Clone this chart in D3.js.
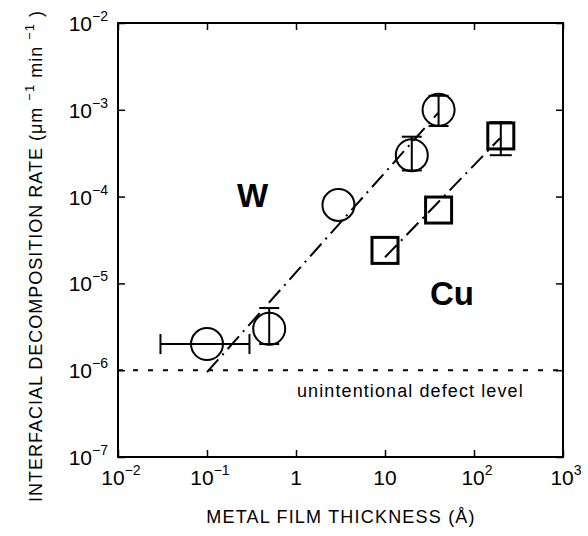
<!DOCTYPE html>
<html>
<head>
<meta charset="utf-8">
<script src="https://cdn.jsdelivr.net/npm/d3@7/dist/d3.min.js"></script>
<style>
  body { margin: 0; background: #fff; }
  text { font-family: "Liberation Sans", Arial, Helvetica, sans-serif; fill: #000; }
</style>
</head>
<body>
<div id="chart"></div>
<script>
// W film data (thickness in Angstrom, rate in um^-1 min^-1)
var wThickness = [0.1, 0.5, 3, 20, 40];
var wRate      = [2e-6, 3e-6, 8e-5, 3e-4, 1e-3];
var wRateLow   = [null, 2e-6, null, 2e-4, 6.5e-4];
var wRateHigh  = [null, 5.2e-6, null, 4.9e-4, 1.45e-3];
var wThickLow  = [0.03, null, null, null, null];
var wThickHigh = [0.3, null, null, null, null];

// Cu film data
var cuThickness = [10, 40, 200];
var cuRate      = [2.4e-5, 7e-5, 5e-4];
var cuRateLow   = [null, null, 3e-4];
var cuRateHigh  = [null, null, 7.2e-4];

// fitted dash-dot lines (end points)
var wFitX = [0.1, 39.5];
var wFitY = [9.5e-7, 9.2e-4];
var cuFitX = [10, 196];
var cuFitY = [2.0e-5, 4.7e-4];

var defectLevel = 1e-6;

// tick values and exponent labels
var xTicks = [0.01, 0.1, 1, 10, 100, 1000];
var xTickExp = [-2, -1, null, null, 2, 3];
var xTickBase = ["10", "10", "1", "10", "10", "10"];
var yTicks = [1e-2, 1e-3, 1e-4, 1e-5, 1e-6, 1e-7];
var yTickExp = [-2, -3, -4, -5, -6, -7];

var width = 588, height = 536;
var margin = {top: 23, right: 25, bottom: 79, left: 118};

var x = d3.scaleLog().domain([0.01, 1000]).range([margin.left, width - margin.right]);
var y = d3.scaleLog().domain([1e-7, 1e-2]).range([height - margin.bottom, margin.top]);

var svg = d3.select("#chart").append("svg")
    .attr("width", width)
    .attr("height", height);

// frame
svg.append("rect")
    .attr("x", x(0.01)).attr("y", y(1e-2))
    .attr("width", x(1000) - x(0.01))
    .attr("height", y(1e-7) - y(1e-2))
    .attr("fill", "none").attr("stroke", "#000").attr("stroke-width", 2);

// inward ticks on all four sides
svg.append("g")
    .attr("transform", "translate(0," + y(1e-7) + ")")
    .call(d3.axisBottom(x).tickValues(xTicks).tickSize(-7).tickFormat(""));
svg.append("g")
    .attr("transform", "translate(0," + y(1e-2) + ")")
    .call(d3.axisTop(x).tickValues(xTicks).tickSize(-7).tickFormat(""));
svg.append("g")
    .attr("transform", "translate(" + x(0.01) + ",0)")
    .call(d3.axisLeft(y).tickValues(yTicks).tickSize(-7).tickFormat(""));
svg.append("g")
    .attr("transform", "translate(" + x(1000) + ",0)")
    .call(d3.axisRight(y).tickValues(yTicks).tickSize(-7).tickFormat(""));
svg.selectAll(".domain").remove();
svg.selectAll(".tick line").attr("stroke", "#000").attr("stroke-width", 1.5);

// x tick labels
xTicks.forEach(function(v, i) {
  var t = svg.append("text")
      .attr("x", x(v) + (xTickExp[i] == null ? 0 : 3))
      .attr("y", y(1e-7) + 28)
      .attr("text-anchor", "middle")
      .style("font-size", "21px");
  t.append("tspan").text(xTickBase[i]);
  if (xTickExp[i] != null) {
    t.append("tspan").attr("dy", -10).style("font-size", "14px")
      .text(String(xTickExp[i]).replace("-", "\u2212"));
  }
});

// y tick labels
yTicks.forEach(function(v, i) {
  var t = svg.append("text")
      .attr("x", 108)
      .attr("y", y(v) + 8)
      .attr("text-anchor", "end")
      .style("font-size", "21px");
  t.append("tspan").text("10");
  t.append("tspan").attr("dy", -10).style("font-size", "14px")
    .text(String(yTickExp[i]).replace("-", "\u2212"));
});

// unintentional defect level
svg.append("line")
    .attr("x1", x(0.01)).attr("x2", x(1000))
    .attr("y1", y(defectLevel)).attr("y2", y(defectLevel))
    .attr("stroke", "#000").attr("stroke-width", 2)
    .attr("stroke-dasharray", "5,10");
svg.append("text")
    .attr("x", 297).attr("y", 397)
    .style("font-size", "18px").style("letter-spacing", "1.1px")
    .text("unintentional defect level");

// fit lines
var line = d3.line().x(function(d) { return x(d[0]); }).y(function(d) { return y(d[1]); });
svg.append("path")
    .datum(d3.zip(wFitX, wFitY))
    .attr("d", line)
    .attr("fill", "none").attr("stroke", "#000").attr("stroke-width", 2)
    .attr("stroke-dasharray", "17,6,2,6");
svg.append("path")
    .datum(d3.zip(cuFitX, cuFitY))
    .attr("d", line)
    .attr("fill", "none").attr("stroke", "#000").attr("stroke-width", 2)
    .attr("stroke-dasharray", "17,6,2,6");

// error bars
function vBar(xv, lo, hi, cap) {
  var g = svg.append("g").attr("stroke", "#000").attr("stroke-width", 2);
  g.append("line").attr("x1", x(xv)).attr("x2", x(xv)).attr("y1", y(lo)).attr("y2", y(hi));
  [lo, hi].forEach(function(v) {
    g.append("line").attr("x1", x(xv) - cap / 2).attr("x2", x(xv) + cap / 2)
      .attr("y1", y(v)).attr("y2", y(v));
  });
}
function hBar(yv, lo, hi, cap) {
  var g = svg.append("g").attr("stroke", "#000").attr("stroke-width", 2);
  g.append("line").attr("x1", x(lo)).attr("x2", x(hi)).attr("y1", y(yv)).attr("y2", y(yv));
  [lo, hi].forEach(function(v) {
    g.append("line").attr("x1", x(v)).attr("x2", x(v))
      .attr("y1", y(yv) - cap / 2).attr("y2", y(yv) + cap / 2);
  });
}

for (var i = 0; i < wThickness.length; i++) {
  if (wRateLow[i] != null) vBar(wThickness[i], wRateLow[i], wRateHigh[i], 20);
  if (wThickLow[i] != null) hBar(wRate[i], wThickLow[i], wThickHigh[i], 20);
}
for (var i = 0; i < cuThickness.length; i++) {
  if (cuRateLow[i] != null) vBar(cuThickness[i], cuRateLow[i], cuRateHigh[i], 22);
}

// W circles
svg.append("g").selectAll("circle")
    .data(d3.zip(wThickness, wRate))
    .join("circle")
    .attr("cx", function(d) { return x(d[0]); })
    .attr("cy", function(d) { return y(d[1]); })
    .attr("r", 16)
    .attr("fill", "none").attr("stroke", "#000").attr("stroke-width", 2);

// Cu squares
svg.append("g").selectAll("rect")
    .data(d3.zip(cuThickness, cuRate))
    .join("rect")
    .attr("x", function(d) { return x(d[0]) - 13; })
    .attr("y", function(d) { return y(d[1]) - 13; })
    .attr("width", 26).attr("height", 26)
    .attr("fill", "none").attr("stroke", "#000").attr("stroke-width", 3);

// series labels
svg.append("text").attr("x", 237).attr("y", 207)
    .style("font-size", "33px").style("font-weight", "bold").text("W");
svg.append("text").attr("x", 430).attr("y", 305)
    .style("font-size", "33px").style("font-weight", "bold").text("Cu");

// axis titles
svg.append("text")
    .attr("x", 341).attr("y", 523)
    .attr("text-anchor", "middle")
    .style("font-size", "18px").style("letter-spacing", "1.2px")
    .text("METAL FILM THICKNESS (\u00C5)");

var yt = svg.append("text")
    .attr("transform", "translate(42,256) rotate(-90)")
    .attr("text-anchor", "middle")
    .style("font-size", "18px").style("letter-spacing", "1px");
yt.append("tspan").text("INTERFACIAL DECOMPOSITION RATE (\u03BCm ");
yt.append("tspan").attr("dy", -8).style("font-size", "13px").text("\u22121");
yt.append("tspan").attr("dy", 8).text(" min ");
yt.append("tspan").attr("dy", -8).style("font-size", "13px").text("\u22121");
yt.append("tspan").attr("dy", 8).text(" )");
</script>
</body>
</html>
